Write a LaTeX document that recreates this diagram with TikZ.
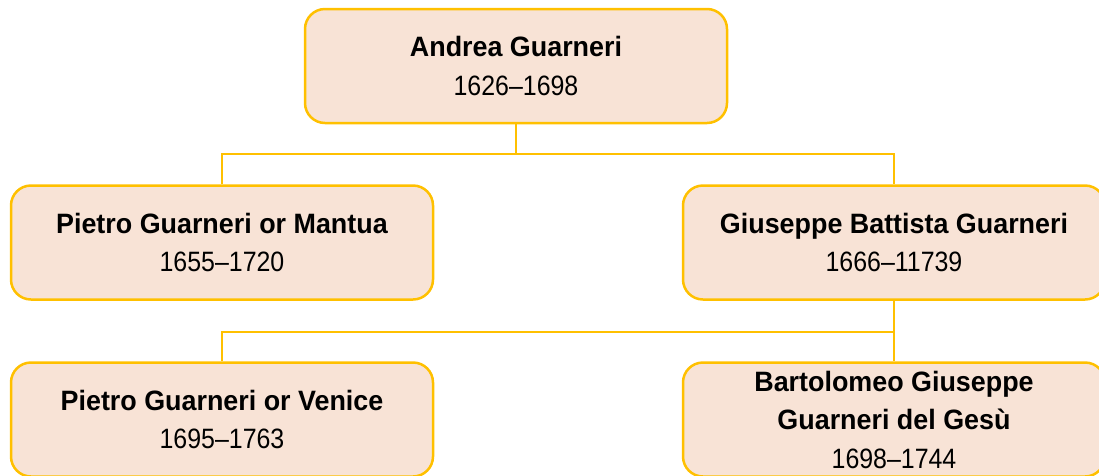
\documentclass[tikz,border=0pt]{standalone}
\usepackage{fontspec}
\setmainfont{Liberation Sans}[FakeStretch=0.89, BoldFont={Liberation Sans Bold}, BoldFeatures={FakeStretch=0.96}]
\definecolor{boxfill}{HTML}{F8E3D6}
\definecolor{boxline}{HTML}{FFC000}
\begin{document}
\begin{tikzpicture}[x=1pt,y=-1pt,
  person/.style={draw=boxline, fill=boxfill, line width=2.5pt, rounded corners=20pt,
    minimum width=422pt, minimum height=114pt, align=center, inner sep=0pt,
    font=\fontsize{28}{38.5}\selectfont},
  conn/.style={draw=boxline, line width=1.3pt}]
\useasboundingbox (0,0) rectangle (1099,475);
\clip (0,0) rectangle (1099,475);
\node[person] (top) at (516,66) {\textbf{Andrea Guarneri}\\1626--1698};
\node[person] (ml) at (222,242.5) {\textbf{Pietro Guarneri or Mantua}\\1655--1720};
\node[person] (mr) at (894,242.5) {\textbf{Giuseppe Battista Guarneri}\\1666--11739};
\node[person] (bl) at (222,419.5) {\textbf{Pietro Guarneri or Venice}\\1695--1763};
\node[person] (br) at (894,419.5) {\textbf{Bartolomeo Giuseppe}\\\textbf{Guarneri del Gesù}\\1698--1744};
\coordinate (j1) at (516,154);
\coordinate (j2) at (894,332);
\draw[conn] (top.south) -- (j1);
\draw[conn] (ml.north) |- (j1) -| (mr.north);
\draw[conn] (mr.south) -- (j2);
\draw[conn] (bl.north) |- (j2) -| (br.north);
\end{tikzpicture}
\end{document}
